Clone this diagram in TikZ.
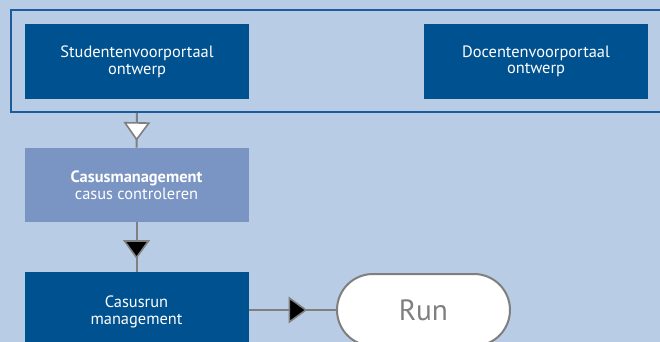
\documentclass[tikz,border=0pt]{standalone}
\usepackage{fontspec}
\setmainfont{PT Sans}
\usetikzlibrary{arrows.meta,decorations.markings}
\definecolor{bgblue}{HTML}{B9CCE5}
\definecolor{darkbox}{HTML}{00518F}
\definecolor{midbox}{HTML}{7A95C3}
\definecolor{frameline}{HTML}{1E5B9C}
\definecolor{linegray}{HTML}{7F7F7F}
\begin{document}
\begin{tikzpicture}[x=0.75pt, y=-0.75pt]
        \tikzset{
        dark box/.style={rectangle,fill=darkbox,text=white,align=center,minimum width=168pt,minimum height=56.25pt,inner sep=0,font=\fontsize{12.3}{12.5}\selectfont},
        mid box/.style={dark box,fill=midbox},
        run node/.style={rectangle,rounded corners=27pt,draw=linegray,line width=1.5pt,fill=white,text=linegray,minimum width=129.75pt,minimum height=54pt,font=\fontsize{22}{24}\selectfont},
        flow/.style={draw=linegray,line width=1.5pt},
        mid tip/.style 2 args={postaction={decorate,decoration={markings,mark=at position #1 with {\arrow{Triangle[width=20pt,length=14pt,fill=#2,line width=1.2pt,color=linegray,fill=#2]}}}}}
        }
        \useasboundingbox (0,0) rectangle (660,342);
        \fill[bgblue] (0,0) rectangle (660,342);

        \node[draw=frameline,line width=1.5pt,minimum width=490.5pt,minimum height=76.5pt,inner sep=0] (frame) at (338,61) {};
        \node[dark box] (student) at (137,61.5) {Studentenvoorportaal\\ontwerp};
        \node[dark box] (docent) at (536,61.5) {Docentenvoorportaal\\ontwerp};
        \node[mid box,minimum height=55.5pt] (casus) at (136.5,185) {\textbf{Casusmanagement}\\casus controleren};
        \node[dark box,minimum height=60pt] (casusrun) at (136.5,312) {Casusrun\\management};
        \node[run node] (run) at (423.5,310) {Run};

        \path[flow]
        (student |- frame.south) edge[mid tip={0.8}{white}] (casus.north)
        (casus.south) edge[mid tip={0.74}{black}] (casusrun.north)
        ;
        \path[flow] (casusrun.east |- run.west) edge[mid tip={0.67}{black}] (run.west);
    \end{tikzpicture}
\end{document}
